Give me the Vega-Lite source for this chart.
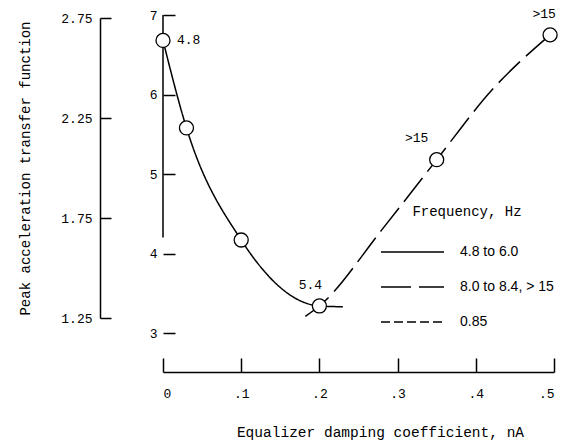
{
  "$schema": "https://vega.github.io/schema/vega-lite/v6.json",
  "width": 391,
  "height": 318,
  "autosize": "none",
  "padding": {"left": 163, "top": 15, "right": 34, "bottom": 112},
  "background": "white",
  "config": {
    "view": {"stroke": null},
    "axis": {
      "grid": false,
      "labelFont": "Liberation Mono",
      "titleFont": "Liberation Mono",
      "labelColor": "black",
      "titleColor": "black",
      "domainColor": "black",
      "tickColor": "black",
      "labelFontSize": 13,
      "titleFontSize": 14,
      "titleFontWeight": "normal",
      "domainWidth": 1.5,
      "tickWidth": 1.5
    }
  },
  "datasets": {
    "curves": [
      {"series": "4.8 to 6.0", "n": 0, "val": 6.68},
      {"series": "4.8 to 6.0", "n": 0.03, "val": 5.58},
      {"series": "4.8 to 6.0", "n": 0.1, "val": 4.17},
      {"series": "4.8 to 6.0", "n": 0.2, "val": 3.34},
      {"series": "4.8 to 6.0", "n": 0.23, "val": 3.33},
      {"series": "8.0 to 8.4, > 15", "n": 0.182, "val": 3.21},
      {"series": "8.0 to 8.4, > 15", "n": 0.2, "val": 3.34},
      {"series": "8.0 to 8.4, > 15", "n": 0.28, "val": 4.3},
      {"series": "8.0 to 8.4, > 15", "n": 0.35, "val": 5.18},
      {"series": "8.0 to 8.4, > 15", "n": 0.42, "val": 6.05},
      {"series": "8.0 to 8.4, > 15", "n": 0.495, "val": 6.75}
    ],
    "points": [
      {"id": 1, "n": 0, "val": 6.68, "label": "4.8"},
      {"id": 2, "n": 0.03, "val": 5.58, "label": ""},
      {"id": 3, "n": 0.1, "val": 4.17, "label": ""},
      {"id": 4, "n": 0.2, "val": 3.34, "label": "5.4"},
      {"id": 5, "n": 0.35, "val": 5.18, "label": ">15"},
      {"id": 6, "n": 0.495, "val": 6.75, "label": ">15"}
    ],
    "outer": [{"v": 1.25}, {"v": 2.75}]
  },
  "layer": [
    {
      "layer": [
        {
          "data": {"name": "curves"},
          "mark": {"type": "line", "interpolate": "monotone", "color": "black", "strokeWidth": 1.5},
          "encoding": {
            "x": {
              "field": "n", "type": "quantitative",
              "scale": {"domain": [0, 0.5], "nice": false, "zero": false},
              "axis": {
                "values": [0, 0.1, 0.2, 0.3, 0.4, 0.5],
                "labelExpr": "datum.value == 0 ? '0' : '.' + round(datum.value * 10)",
                "offset": 39,
                "tickSize": -14,
                "labelPadding": 29,
                "title": "Equalizer damping coefficient, nA",
                "titleFontSize": 14.5,
                "titleX": 217,
                "titlePadding": 25
              }
            },
            "y": {
              "field": "val", "type": "quantitative",
              "scale": {"domain": [3, 7], "nice": false, "zero": false},
              "axis": {
                "orient": "left",
                "values": [3, 4, 5, 6, 7],
                "format": "d",
                "tickSize": -12,
                "labelPadding": 18,
                "domain": false,
                "title": null
              }
            },
            "strokeDash": {
              "field": "series", "type": "nominal",
              "scale": {
                "domain": ["4.8 to 6.0", "8.0 to 8.4, > 15", "0.85"],
                "range": [[1, 0], [30, 8], [9, 4]]
              },
              "legend": {
                "orient": "none",
                "legendX": 217,
                "legendY": 190,
                "title": "Frequency, Hz",
                "titleFont": "Liberation Mono",
                "titleFontSize": 14,
                "titleFontWeight": "normal",
                "titleColor": "black",
                "titleAnchor": "middle",
                "titlePadding": 23,
                "labelFont": "Liberation Sans",
                "labelFontSize": 14,
                "labelColor": "black",
                "labelOffset": 15,
                "symbolType": "stroke",
                "symbolSize": 3969,
                "symbolStrokeWidth": 1.5,
                "symbolStrokeColor": "black",
                "clipHeight": 20,
                "rowPadding": 15,
                "padding": 0
              }
            }
          }
        },
        {
          "data": {"name": "points"},
          "mark": {"type": "rule", "color": "black", "strokeWidth": 1.5},
          "transform": [{"filter": "datum.id == 1"}],
          "encoding": {
            "x": {"datum": 0, "type": "quantitative"},
            "y": {"datum": 7, "type": "quantitative"},
            "y2": {"datum": 4.2}
          }
        },
        {
          "data": {"name": "points"},
          "mark": {"type": "point", "shape": "circle", "filled": true, "fill": "white", "stroke": "black", "strokeWidth": 1.3, "size": 196, "opacity": 1},
          "encoding": {
            "x": {"field": "n", "type": "quantitative"},
            "y": {"field": "val", "type": "quantitative"}
          }
        },
        {
          "data": {"name": "points"},
          "transform": [{"filter": "datum.id == 1"}],
          "mark": {"type": "text", "font": "Liberation Mono", "fontSize": 13, "align": "left", "baseline": "middle", "dx": 14, "color": "black"},
          "encoding": {
            "x": {"field": "n", "type": "quantitative"},
            "y": {"field": "val", "type": "quantitative"},
            "text": {"field": "label"}
          }
        },
        {
          "data": {"name": "points"},
          "transform": [{"filter": "datum.id == 4"}],
          "mark": {"type": "text", "font": "Liberation Mono", "fontSize": 13, "align": "center", "baseline": "middle", "dx": -9, "dy": -21, "color": "black"},
          "encoding": {
            "x": {"field": "n", "type": "quantitative"},
            "y": {"field": "val", "type": "quantitative"},
            "text": {"field": "label"}
          }
        },
        {
          "data": {"name": "points"},
          "transform": [{"filter": "datum.id == 5"}],
          "mark": {"type": "text", "font": "Liberation Mono", "fontSize": 13, "align": "center", "baseline": "middle", "dx": -20, "dy": -22, "color": "black"},
          "encoding": {
            "x": {"field": "n", "type": "quantitative"},
            "y": {"field": "val", "type": "quantitative"},
            "text": {"field": "label"}
          }
        },
        {
          "data": {"name": "points"},
          "transform": [{"filter": "datum.id == 6"}],
          "mark": {"type": "text", "font": "Liberation Mono", "fontSize": 13, "align": "center", "baseline": "middle", "dx": -6, "dy": -21, "color": "black"},
          "encoding": {
            "x": {"field": "n", "type": "quantitative"},
            "y": {"field": "val", "type": "quantitative"},
            "text": {"field": "label"}
          }
        }
      ]
    },
    {
      "data": {"name": "outer"},
      "mark": {"type": "point", "opacity": 0},
      "encoding": {
        "y": {
          "field": "v", "type": "quantitative",
          "scale": {"domain": [1.25, 2.75], "range": [303, 3], "nice": false, "zero": false},
          "axis": {
            "orient": "left",
            "values": [1.25, 1.75, 2.25, 2.75],
            "format": ".2f",
            "offset": 63,
            "tickSize": -11,
            "labelPadding": 19,
            "title": "Peak acceleration transfer function",
            "titlePadding": 28
          }
        }
      }
    }
  ],
  "resolve": {"scale": {"y": "independent"}, "axis": {"y": "independent"}}
}
